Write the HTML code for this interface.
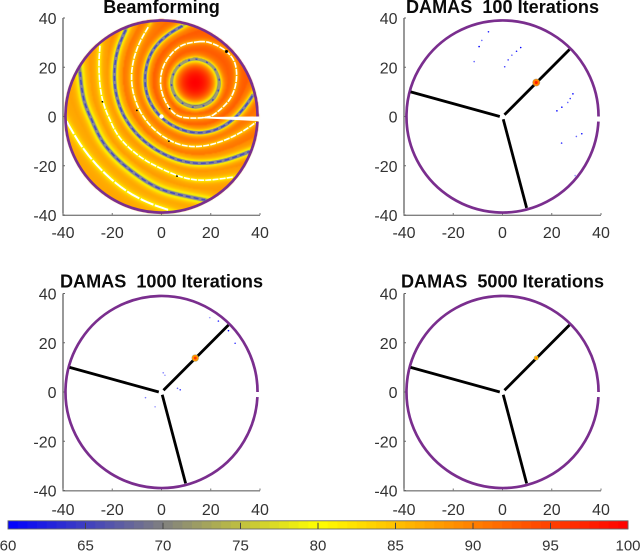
<!DOCTYPE html>
<html><head><meta charset="utf-8"><title>Beamforming and DAMAS maps</title>
<style>
html,body{margin:0;padding:0;background:#fff}
#stage{position:relative;width:640px;height:551px;overflow:hidden;background:#fff;font-family:"Liberation Sans",sans-serif}
#field{position:absolute;left:63px;top:18px;width:197px;height:197px;filter:blur(.4px)}
#chart{position:absolute;left:0;top:0;filter:blur(.3px)}
text{font-family:"Liberation Sans",sans-serif;white-space:pre}
</style></head>
<body>
<div id="stage">
<canvas id="field" width="197" height="197"></canvas>
<svg id="chart" width="640" height="551" viewBox="0 0 640 551"></svg>
</div>
<script>
// ---------- data ----------
var axisTicks = [-40, -20, 0, 20, 40];
var colorTicks = [60, 65, 70, 75, 80, 85, 90, 95, 100];
var colorStopLevels = [60, 70, 80, 90, 100];
var colorStopRGB = [[0,0,255],[128,128,128],[255,255,0],[255,128,0],[255,0,0]];
var arrayRadius = 39;
var armInner = [[0.8,0.7],[-1.1,0.0],[0.3,-1.1]];
var armOuter = [[27.2,27.2],[-37.3,10.0],[9.8,-37.1]];
var sourcePoint = [13.7, 13.8];
var peakLevel = 100;

// beamforming null contours (x, y in axis units)
var nullA = [[13.8,23.3],[20.7,20.4],[23.6,13.5],[20.7,6.6],[13.8,3.7],[6.9,6.6],[4,13.5],[6.9,20.4]];
var nullB = [[15.6,30.4],[7.4,28.4],[1.4,21.7],[-0.4,13.5],[2,5.4],[7.4,0],[18.3,-0.3],[23.7,2.7],[28.4,8.1],[30.4,14.9],[29.8,21.7],[26.4,26.4],[21,29.5]];
var nullC = [[8.5,36.8],[2,33.2],[-4.1,27.1],[-6.8,18.9],[-6.8,10.8],[-4.1,4.1],[0.7,-1.6],[7.4,-5.4],[14.2,-7],[21,-6.1],[27.7,-2.7],[33.2,2.7],[37.2,8.8]];
var nullD = [[-5.4,36.3],[-10.1,28.4],[-12.6,18.3],[-11.8,9.5],[-8.8,1.4],[-3.4,-5.4],[3.4,-10.1],[10.1,-12.4],[18.3,-12.2],[26.4,-9.5],[33.2,-6.1],[38.3,-2.4]];
var nullE = [[-14.5,35.2],[-18.3,27.1],[-19.6,16.2],[-18,5.4],[-13.5,-3.4],[-7.4,-10.1],[0.7,-15.6],[10.1,-18.9],[18.3,-19.2],[26.4,-17.9],[35.9,-14.2]];
var nullF = [[-25,28.7],[-25.7,18.5],[-24.3,6],[-20.9,-1.4],[-17.7,-8.8],[-8.7,-16.9],[-0.6,-21],[6.3,-24.2],[15.6,-26.6],[29,-24.6]];
var nullG = [[-33.1,18.1],[-31.9,5.9],[-28.2,-1.4],[-25,-9.5],[-18,-17.7],[-8.7,-25],[-0.6,-29.8],[7.5,-31.9],[17.7,-33.9]];
var nullH = [[-38.4,-2.2],[-33.1,-11.6],[-25,-21.7],[-14,-31.1],[-3.5,-35.9],[3,-38]];
var blueNulls = [nullA, nullC, nullE, nullG];
var whiteNulls = [nullB, nullD, nullF, nullH];
var lobePeaks = [93, 93, 92, 91, 89.5, 88, 87.5, 87];
var speckX = [26.4, -24, -10, 3.3, 3, 6.3];
var speckY = [26.4, 6, 2.5, 3.2, -10, -24.2];

// DAMAS residual points: x, y, level
var damas100X = [-5.7,-8.4,-9.5,-11.5,7.4,5.7,3.8,2.3,0.9,28.6,27.5,26.5,24.1,22.1,32.2,30,24,29.5];
var damas100Y = [34.4,30.9,28.4,22.3,28,26.5,24.9,23,20.2,9.2,7.3,5.7,3.8,2.3,-7,-8.1,-10.8,-24];
var damas100L = [61,64,60,64,60,61,64,62,62,60,62,64,60,60,60,64,62,66];
var damas1000X = [19.6,23.1,27.2,29.9,0.7,1.4,6.5,7.6,-6.5,-2.6];
var damas1000Y = [30.2,28.8,24.9,19.8,7.8,6.8,1.5,0.9,-2.3,-6];
var damas1000L = [66,62,60,62,65,66,64,62,65,66];
var sourceLevel100 = 90;
var sourceLevel1000 = 88;
var sourceLevel5000 = 85;
var sourceSize100 = 1.4;
var sourceSize1000 = 1.3;
var sourceSize5000 = 0.8;

// ---------- scales ----------
var svg = document.getElementById('chart');
var NS = 'http://www.w3.org/2000/svg';
var K = 197 / 80;
function sx(panel, v) { return panel.cx + v * K; }
function sy(panel, v) { return panel.cy - v * K; }
function mk(tag, attrs, parent) {
  var e = document.createElementNS(NS, tag);
  for (var k in attrs) e.setAttribute(k, attrs[k]);
  (parent || svg).appendChild(e);
  return e;
}
function levelColor(l) {
  l = Math.max(colorStopLevels[0], Math.min(colorStopLevels[colorStopLevels.length - 1], l));
  for (var i = 0; i < colorStopLevels.length - 1; i++) {
    if (l <= colorStopLevels[i + 1]) {
      var f = (l - colorStopLevels[i]) / (colorStopLevels[i + 1] - colorStopLevels[i]);
      return [0, 1, 2].map(function (c) { return Math.round(colorStopRGB[i][c] + f * (colorStopRGB[i + 1][c] - colorStopRGB[i][c])); });
    }
  }
  return colorStopRGB[colorStopRGB.length - 1];
}
function css(l) { return 'rgb(' + levelColor(l).join(',') + ')'; }

// closed rings pass through their points; open contours use a smoothing B-spline
function spline(pts, closed) {
  var out = [], n = pts.length, i, j;
  if (closed) {
    function at(k) { return pts[(k + n) % n]; }
    for (i = 0; i < n; i++) {
      var p0 = at(i - 1), p1 = at(i), p2 = at(i + 1), p3 = at(i + 2);
      for (j = 0; j < 5; j++) {
        var t = j / 5, t2 = t * t, t3 = t2 * t;
        out.push([0, 1].map(function (c) {
          return 0.5 * (2 * p1[c] + (p2[c] - p0[c]) * t + (2 * p0[c] - 5 * p1[c] + 4 * p2[c] - p3[c]) * t2 + (3 * p1[c] - p0[c] - 3 * p2[c] + p3[c]) * t3);
        }));
      }
    }
    out.push(out[0]);
    return out;
  }
  var q = [pts[0], pts[0]].concat(pts, [pts[n - 1], pts[n - 1]]);
  for (i = 0; i < q.length - 3; i++) {
    for (j = 0; j < 5; j++) {
      var u = j / 5, a = (1 - u) * (1 - u) * (1 - u) / 6, b = (3 * u * u * u - 6 * u * u + 4) / 6, d = (-3 * u * u * u + 3 * u * u + 3 * u + 1) / 6, e = u * u * u / 6;
      out.push([a * q[i][0] + b * q[i + 1][0] + d * q[i + 2][0] + e * q[i + 3][0], a * q[i][1] + b * q[i + 1][1] + d * q[i + 2][1] + e * q[i + 3][1]]);
    }
  }
  out.push(pts[n - 1]);
  return out;
}
function extend(line) {
  var a = line[0], b = line[5], y = line[line.length - 1], z = line[line.length - 6];
  function far(p, q) {
    var dx = p[0] - q[0], dy = p[1] - q[1], d = Math.hypot(dx, dy) || 1;
    return [p[0] + dx / d * 10, p[1] + dy / d * 10];
  }
  return [far(a, b)].concat(line, [far(y, z)]);
}
function segDist(x, y, l) {
  var best = 1e9;
  for (var i = 0; i < l.length - 1; i++) {
    var ax = l[i][0], ay = l[i][1], bx = l[i + 1][0] - ax, by = l[i + 1][1] - ay;
    var t = ((x - ax) * bx + (y - ay) * by) / (bx * bx + by * by || 1);
    t = t < 0 ? 0 : t > 1 ? 1 : t;
    var dx = x - ax - t * bx, dy = y - ay - t * by, d = dx * dx + dy * dy;
    if (d < best) best = d;
  }
  return Math.sqrt(best);
}

// ---------- beamforming field ----------
function drawField() {
  var cv = document.getElementById('field'), ctx = cv.getContext('2d');
  var img = ctx.createImageData(197, 197);
  var lines = [nullA, nullB, nullC, nullD, nullE, nullF, nullG, nullH].map(function (c, i) {
    var s = spline(c, i < 2);
    return { pts: i < 2 ? s : extend(s), white: i % 2 === 1, peak: lobePeaks[i] };
  });
  var ringR = 9.8;
  for (var py = 0; py < 197; py++) {
    for (var px = 0; px < 197; px++) {
      var x = (px + 0.5) / K - 40, y = 40 - (py + 0.5) / K, idx = (py * 197 + px) * 4;
      if (x * x + y * y > (arrayRadius + 0.4) * (arrayRadius + 0.4)) continue;
      var r = Math.hypot(x - sourcePoint[0], y - sourcePoint[1]), level;
      if (r < ringR) {
        level = peakLevel + 26 * Math.log10(Math.max(0.02, Math.cos(Math.PI / 2 * r / ringR)));
      } else {
        var d1 = 1e9, w = false, pk = 0;
        for (var i = 0; i < lines.length; i++) {
          var d = segDist(x, y, lines[i].pts);
          if (d < d1) { d1 = d; w = lines[i].white; pk = lines[i].peak; }
        }
        level = w ? pk - 9 * Math.exp(-d1 / 1.0) : pk - 22 * Math.exp(-d1 / 1.1);
      }
      var c = levelColor(level);
      img.data[idx] = c[0]; img.data[idx + 1] = c[1]; img.data[idx + 2] = c[2]; img.data[idx + 3] = 255;
    }
  }
  ctx.putImageData(img, 0, 0);
}

// ---------- axes ----------
function drawAxes(panel, slug) {
  var g = mk('g', {});
  
  
  var yl = mk('line', { x1: panel.cx - 98.5, x2: panel.cx - 98.5, y1: panel.cy - 98.5, y2: panel.cy + 99, stroke: '#555', 'stroke-width': 1.2 }, g);
  
  
  var xl = mk('line', { x1: panel.cx - 99, x2: panel.cx + 98.5, y1: panel.cy + 98.8, y2: panel.cy + 98.8, stroke: '#808080', 'stroke-width': 1.4 }, g);
  
  
  axisTicks.forEach(function (v) {
    var t1 = mk('line', { x1: sx(panel, v), x2: sx(panel, v), y1: panel.cy + 98.5, y2: panel.cy + 96.5, stroke: '#777', 'stroke-width': 1 }, g);
    
    
    var t2 = mk('line', { x1: panel.cx - 98.5, x2: panel.cx - 96.5, y1: sy(panel, v), y2: sy(panel, v), stroke: '#666', 'stroke-width': 1 }, g);
    
    
    var lx = mk('text', { x: sx(panel, v), y: panel.cy + panel.xlab, 'text-anchor': 'middle', 'font-size': 16, fill: '#333' }, g);
    lx.textContent = v;
    
    
    var ly = mk('text', { x: panel.cx - 105, y: sy(panel, v) + 6, 'text-anchor': 'end', 'font-size': 16, fill: '#333' }, g);
    ly.textContent = v;
    
    
  });
  var tt = mk('text', { x: panel.tx, y: panel.cy - panel.tlab, 'text-anchor': 'middle', 'font-size': 18.1, 'font-weight': 'bold', fill: '#0a0a0a' }, g);
  tt.textContent = panel.title;
  
  
}

function drawRing(panel, slug) {
  var gapA = -3 * Math.PI / 180, R = arrayRadius * K;
  var x0 = panel.cx + R, y0 = panel.cy;
  var x1 = panel.cx + R * Math.cos(gapA), y1 = panel.cy - R * Math.sin(gapA);
  var ring = mk('path', { d: 'M' + x0 + ' ' + y0 + ' A' + R + ' ' + R + ' 0 1 0 ' + x1 + ' ' + y1, fill: 'none', stroke: '#7a2e8e', 'stroke-width': 2.7 });
  
  
}

function drawArms(panel, slug) {
  armOuter.forEach(function (p, i) {
    var arm = mk('line', { x1: sx(panel, armInner[i][0]), y1: sy(panel, armInner[i][1]), x2: sx(panel, p[0]), y2: sy(panel, p[1]), stroke: '#000', 'stroke-width': 2.8 });
    
    
  });
}

function drawPoints(panel, slug, xs, ys, ls) {
  xs.forEach(function (v, i) {
    var dot = mk('circle', { cx: sx(panel, v), cy: sy(panel, ys[i]), r: 0.8, fill: css(60), opacity: (70 - ls[i]) / 10 });
    
    
  });
}

function drawSource(panel, slug, level, size) {
  var halo = mk('circle', { cx: sx(panel, sourcePoint[0]), cy: sy(panel, sourcePoint[1]), r: size * K + 0.5, fill: css(72), opacity: 0.7 });
  
  
  var core = mk('circle', { cx: sx(panel, sourcePoint[0]), cy: sy(panel, sourcePoint[1]), r: size * K, fill: css(level) });
  
  
  var inner = mk('circle', { cx: sx(panel, sourcePoint[0]), cy: sy(panel, sourcePoint[1]), r: size * K * 0.45, fill: css(level + 8) });
  
  
}

// ---------- panels ----------
var p1 = { cx: 161.5, cy: 116.5, tx: 161.5, xlab: 121.5, tlab: 103.5, title: 'Beamforming' };
var p2 = { cx: 502.5, cy: 116.5, tx: 502.5, xlab: 121.5, tlab: 103.5, title: 'DAMAS  100 Iterations' };
var p3 = { cx: 161.5, cy: 392, tx: 161.5, xlab: 123, tlab: 104.5, title: 'DAMAS  1000 Iterations' };
var p4 = { cx: 502.5, cy: 392, tx: 502.5, xlab: 123, tlab: 104.5, title: 'DAMAS  5000 Iterations' };

drawField();

// panel 1 overlays
var clip = mk('clipPath', { id: 'disc' });
mk('circle', { cx: p1.cx, cy: p1.cy, r: arrayRadius * K }, clip);
var overlay = mk('g', { 'clip-path': 'url(#disc)' });


function linePts(c, closed) {
  return spline(c, closed).map(function (p) { return sx(p1, p[0]).toFixed(1) + ',' + sy(p1, p[1]).toFixed(1); }).join(' ');
}
blueNulls.forEach(function (c, i) {
  var closed = i === 0;
  var band = mk('polyline', { points: linePts(c, closed), fill: 'none', stroke: closed ? '#9a9a78' : '#85859a', 'stroke-width': closed ? 2.6 : 3.4 }, overlay);
  
  
  var core = mk('polyline', { points: linePts(c, closed), fill: 'none', stroke: '#3f48c0', 'stroke-width': 1.5, 'stroke-dasharray': closed ? '2 9' : '5 3', opacity: 0.9 }, overlay);
  
  
});
whiteNulls.forEach(function (c, i) {
  var wl = mk('polyline', { points: linePts(c, i === 0), fill: 'none', stroke: '#fff', 'stroke-width': i === 3 ? 2 : 1.6, 'stroke-dasharray': i === 3 ? '14 1.5' : '6 1.2' }, overlay);
  
  
});
speckX.forEach(function (v, i) {
  var sp = mk('circle', { cx: sx(p1, v), cy: sy(p1, speckY[i]), r: i === 0 ? 1.5 : 0.9, fill: '#000' });
  
  
});

drawAxes(p1, 'beamforming');
drawRing(p1, 'beamforming');
var bar = mk('polygon', { points: [[17, -0.2], [39.8, 0], [39.8, -1.9], [17, -0.7]].map(function (p) { return sx(p1, p[0]) + ',' + sy(p1, p[1]); }).join(' '), fill: '#fff' });


var org = mk('circle', { cx: sx(p1, 0), cy: sy(p1, 0), r: 2.2, fill: '#fff' });



drawAxes(p2, 'damas-100');
drawRing(p2, 'damas-100');
drawArms(p2, 'damas-100');
drawPoints(p2, 'damas-100', damas100X, damas100Y, damas100L);
drawSource(p2, 'damas-100', sourceLevel100, sourceSize100);

drawAxes(p3, 'damas-1000');
drawRing(p3, 'damas-1000');
drawArms(p3, 'damas-1000');
drawPoints(p3, 'damas-1000', damas1000X, damas1000Y, damas1000L);
drawSource(p3, 'damas-1000', sourceLevel1000, sourceSize1000);

drawAxes(p4, 'damas-5000');
drawRing(p4, 'damas-5000');
drawArms(p4, 'damas-5000');
drawSource(p4, 'damas-5000', sourceLevel5000, sourceSize5000);

// ---------- colour bar ----------
var cbLeft = 8, cbRight = 628, cbTop = 520.8, cbBottom = 529;
function cbX(l) { return cbLeft + (l - colorTicks[0]) / (colorTicks[colorTicks.length - 1] - colorTicks[0]) * (cbRight - cbLeft); }
var cb = mk('g', {});


for (var lv = 60; lv < 100; lv += 0.625) {
  var cell = mk('rect', { x: cbX(lv), y: cbTop, width: cbX(lv + 0.625) - cbX(lv) + 0.4, height: cbBottom - cbTop, fill: css(lv + 0.31) }, cb);
  
  
}
var cbFrame = mk('rect', { x: cbLeft, y: cbTop, width: cbRight - cbLeft, height: cbBottom - cbTop, fill: 'none', stroke: '#666', 'stroke-width': 0.9 }, cb);


colorTicks.forEach(function (v) {
  if (v !== 60 && v !== 100) {
    var tk = mk('line', { x1: cbX(v), x2: cbX(v), y1: cbTop + 2, y2: cbBottom, stroke: '#444', 'stroke-width': 1 }, cb);
    
    
  }
  var lb = mk('text', { x: cbX(v), y: 550.5, 'text-anchor': 'middle', 'font-size': 15, fill: '#333' }, cb);
  lb.textContent = v;
  
  
});
</script>
</body></html>
